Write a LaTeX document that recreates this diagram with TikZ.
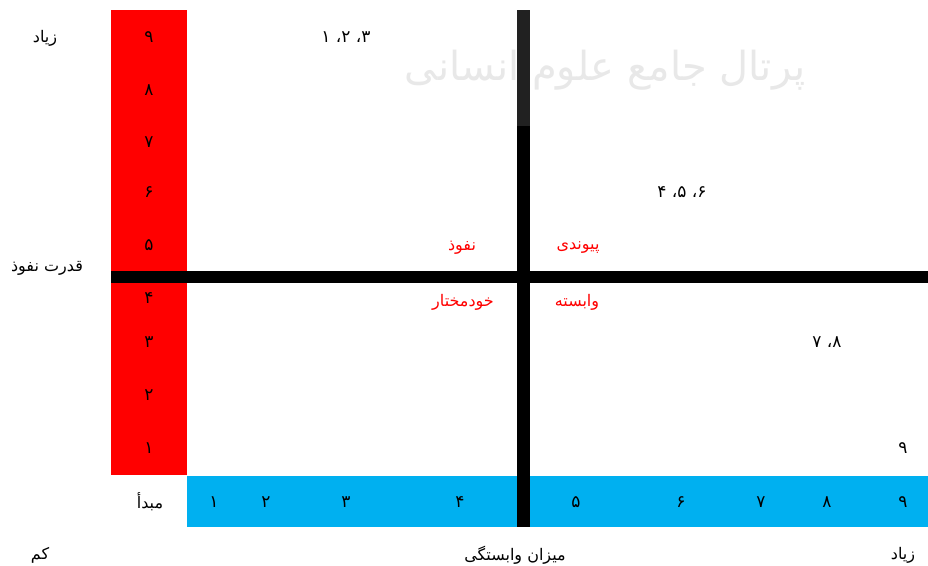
\documentclass[tikz,border=0pt]{standalone}
\usepackage{fontspec}
\TeXXeTstate=1
\newfontfamily\farsi[Script=Arabic]{DejaVu Sans}
\definecolor{infred}{HTML}{FF0000}
\definecolor{depblue}{HTML}{00B0F0}
\definecolor{wmgray}{HTML}{E8E8E8}

\begin{document}
\begin{tikzpicture}[x=1pt, y=-1pt,
  lbl/.style={font=\farsi\fontsize{16}{18}\selectfont, inner sep=0pt},
  num/.style={font=\farsi\fontsize{17}{19}\selectfont, inner sep=0pt},
  quad/.style={lbl, text=infred}]

% Frame
\fill[white] (0,0) rectangle (928,565);
\useasboundingbox (0,0) rectangle (928,565);

% Watermark
\node[lbl, text=wmgray, font=\farsi\fontsize{40}{44}\selectfont] (mark) at (605,70)
  {\beginR پرتال جامع علوم انسانی\endR};

% Influence scale (red column)
\fill[infred] (111,10) rectangle (187,475);
% Dependence scale (blue bar)
\fill[depblue] (187,476) rectangle (928,527);

% Quadrant dividers
\fill[black] (111,271) rectangle (928,283);
\fill[black] (517,126) rectangle (530,527);
\fill[black!87] (517,10) rectangle (530,126);

% Influence ticks
\foreach \n/\lab/\y in {9/۹/37, 8/۸/90, 7/۷/142, 6/۶/192, 5/۵/245,
                         4/۴/298, 3/۳/342, 2/۲/395, 1/۱/448} {
  \node[num] (inf\n) at (149,\y) {\lab};
}

% Dependence ticks
\foreach \n/\lab/\x in {1/۱/214, 2/۲/266, 3/۳/346, 4/۴/460, 5/۵/576,
                         6/۶/681, 7/۷/761, 8/۸/827, 9/۹/903} {
  \node[num] (dep\n) at (\x,502) {\lab};
}

% Axis labels
\node[lbl] (inftop) at (45,38) {\beginR زیاد\endR};
\node[lbl] (inftitle) at (47,268) {\beginR قدرت نفوذ\endR};
\node[lbl] (origin) at (150,502) {\beginR مبدأ\endR};
\node[lbl] (deplow) at (40,555) {\beginR کم\endR};
\node[lbl] (deptitle) at (515,555) {\beginR میزان وابستگی\endR};
\node[lbl] (deptop) at (903,555) {\beginR زیاد\endR};

% Quadrant names
\node[quad] (driving) at (462,248) {\beginR نفوذ\endR};
\node[quad] (linkage) at (578,248) {\beginR پیوندی\endR};
\node[quad] (autonomous) at (463,302) {\beginR خودمختار\endR};
\node[quad] (dependent) at (577,302) {\beginR وابسته\endR};

% Variables
\node[num] (var123) at (346,37) {\beginR ۳، ۲، ۱\endR};
\node[num] (var456) at (682,192) {\beginR ۶، ۵، ۴\endR};
\node[num] (var78) at (827,342) {\beginR ۸، ۷\endR};
\node[num] (var9) at (903,448) {۹};

\end{tikzpicture}
\end{document}
